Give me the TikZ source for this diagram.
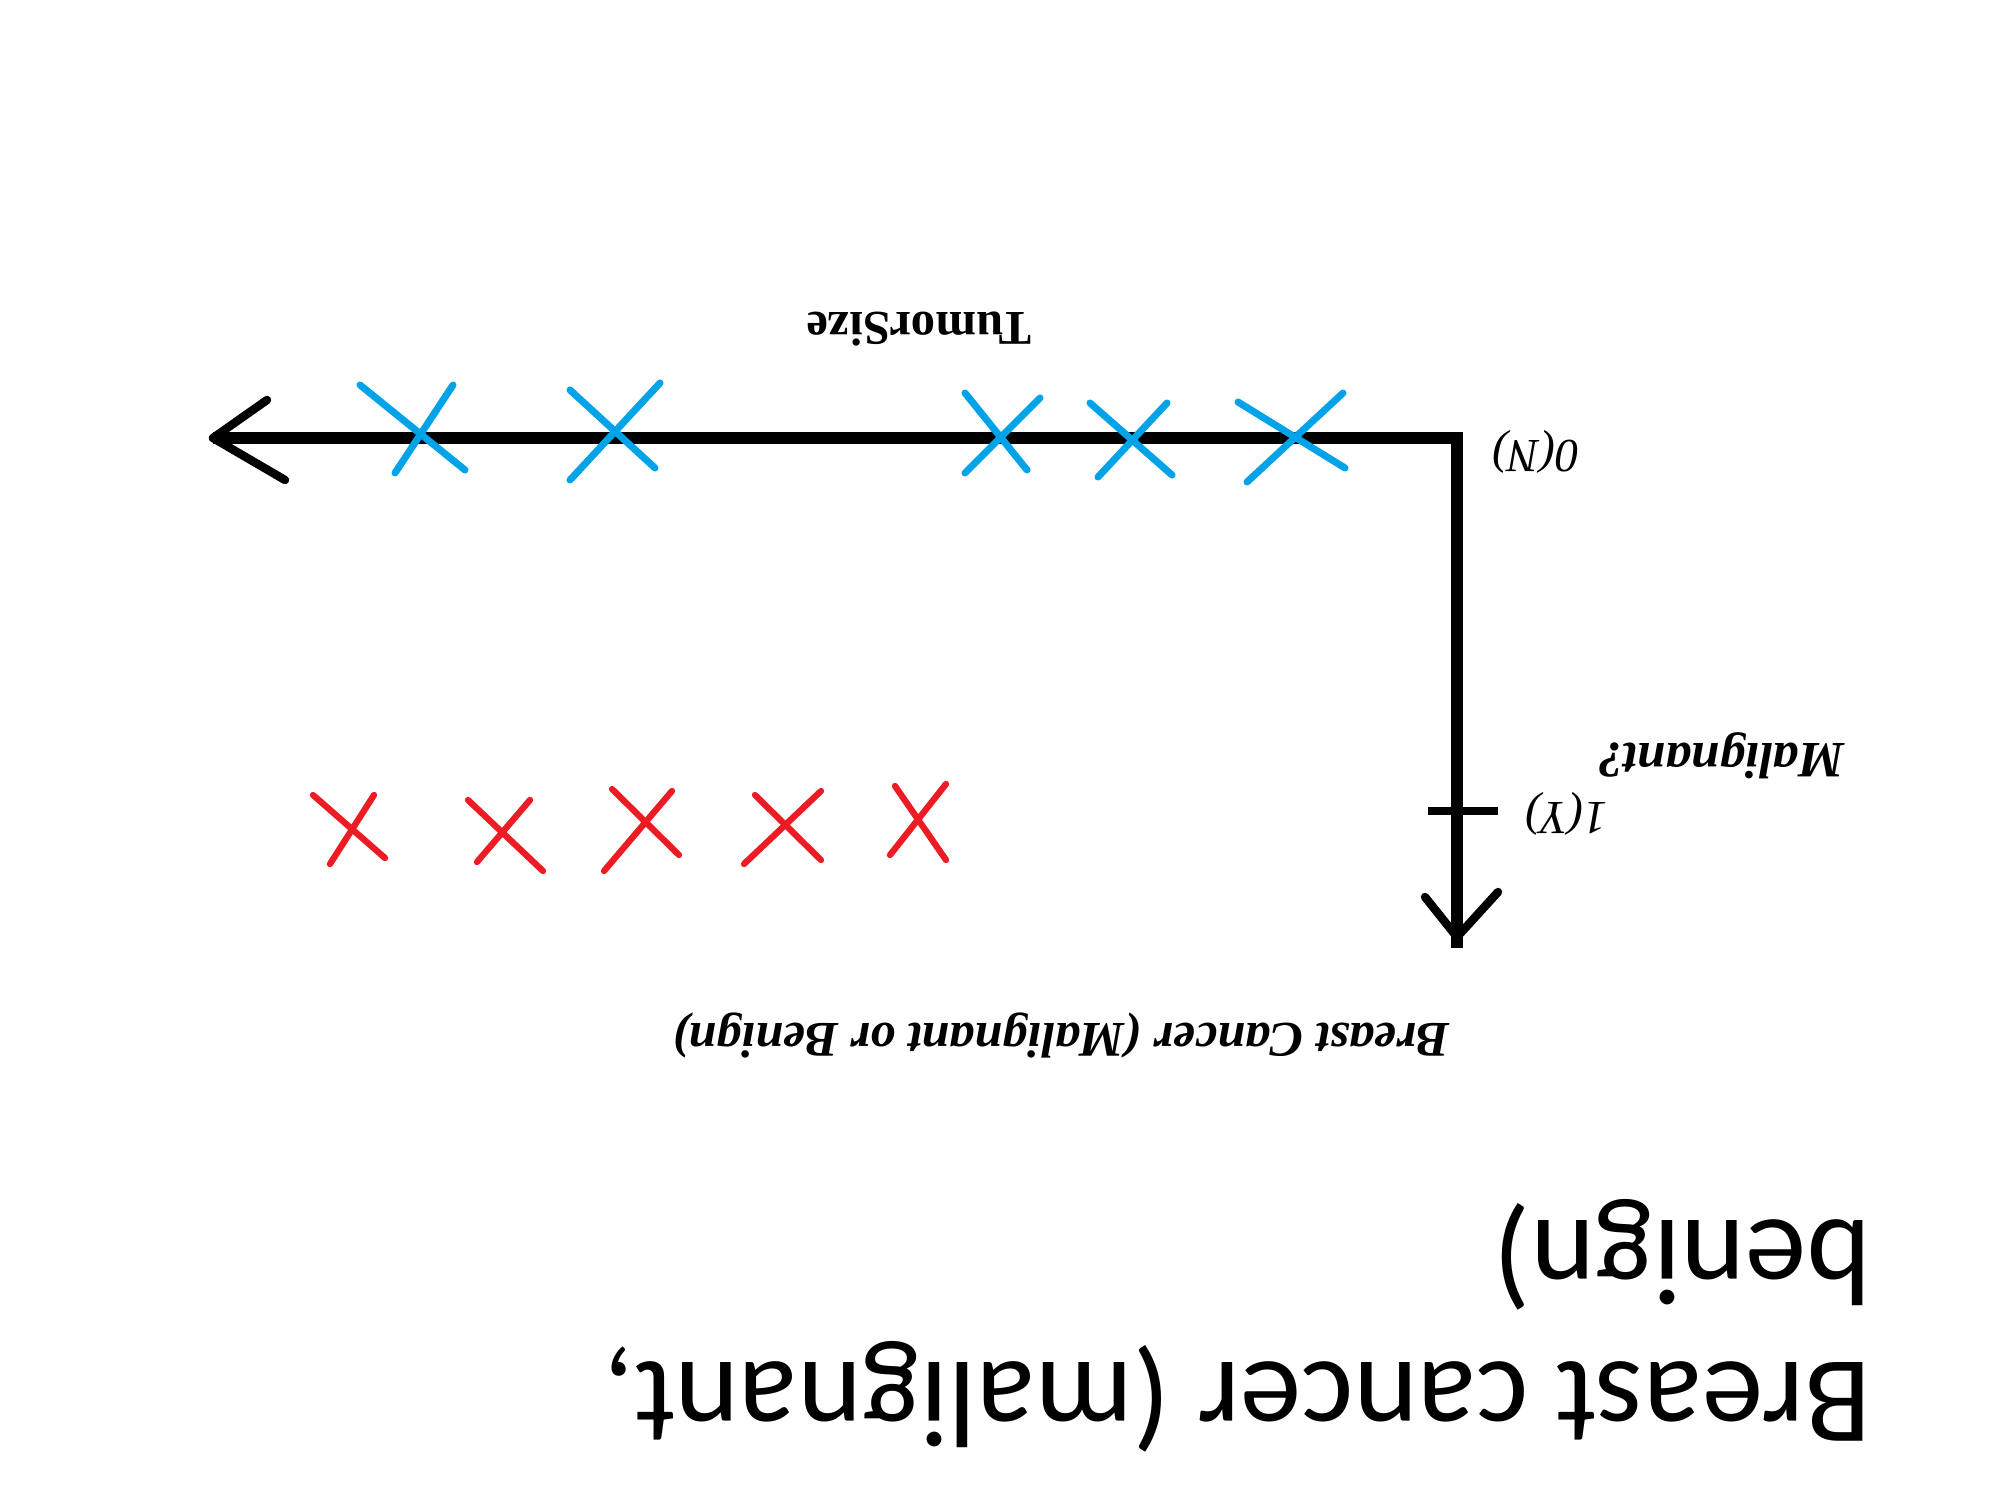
\documentclass[tikz,border=0pt]{standalone}
\usepackage{fontspec}
\newfontfamily\timesf{Liberation Serif}
\newfontfamily\calib{Carlito}
\definecolor{paintblue}{RGB}{0,162,232}
\definecolor{paintred}{RGB}{237,28,36}
\begin{document}
\begin{tikzpicture}[x=0.01cm,y=-0.01cm,
  axis/.style={line width=3.4pt,line join=miter},
  headline/.style={line width=2.4pt,line cap=round,line join=round},
  bluex/.style={paintblue,line width=2pt,line cap=round},
  redx/.style={paintred,line width=1.8pt,line cap=round},
  lbl/.style={inner sep=0pt,rotate=180,anchor=base west}]
\useasboundingbox[fill=white] (0,0) rectangle (2000,1500);
% axes
\coordinate (xend) at (213,438);
\coordinate (corner) at (1457,438);
\coordinate (yend) at (1457,948);
\draw[axis] (xend) -- (corner) -- (yend);
% arrowheads
\coordinate (ha1) at (267,400);
\coordinate (ha2) at (285,480);
\draw[headline] (ha1) -- (xend) -- (ha2);
\coordinate (ytip) at (1457,937);
\coordinate (hb1) at (1425,897);
\coordinate (hb2) at (1498,892);
\draw[headline] (hb1) -- (ytip) -- (hb2);
% tick
\coordinate (t1) at (1428,811);
\coordinate (t2) at (1498,811);
\draw[line width=2.4pt] (t1) -- (t2);
% blue crosses
\draw[bluex] (360,385)--(465,470) (453,385)--(395,473);
\draw[bluex] (570,390)--(655,468) (660,383)--(570,480);
\draw[bluex] (965,393)--(1027,470) (1040,398)--(965,473);
\draw[bluex] (1090,403)--(1172,475) (1167,403)--(1098,477);
\draw[bluex] (1238,402)--(1345,468) (1343,393)--(1247,482);
% red crosses
\draw[redx] (313,795)--(385,858) (374,795)--(330,864);
\draw[redx] (468,800)--(543,871) (530,800)--(477,862);
\draw[redx] (612,789)--(679,855) (672,791)--(604,871);
\draw[redx] (755,795)--(821,860) (821,791)--(744,864);
\draw[redx] (895,786)--(946,860) (946,784)--(890,855);
% labels
\node[lbl,font=\timesf\fontsize{13.8}{16}\selectfont\bfseries] (ts) at (1032,312) {TumorSize};
\node[lbl,font=\timesf\fontsize{13.5}{16}\selectfont\itshape] (zero) at (1580,440) {0(N)};
\node[lbl,font=\timesf\fontsize{13.5}{16}\selectfont\itshape] (one) at (1608,802) {1(Y)};
\node[lbl,font=\timesf\fontsize{14.5}{17}\selectfont\bfseries\itshape] (mal) at (1845,743) {Malignant?};
\node[lbl,font=\timesf\fontsize{14.2}{17}\selectfont\bfseries\itshape] (bc) at (1450,1023) {Breast Cancer (Malignant or Benign)};
\node[lbl,font=\calib\fontsize{34.9}{42}\selectfont] (title1) at (1872,1362) {Breast cancer (malignant,};
\node[lbl,font=\calib\fontsize{34.9}{42}\selectfont] (title2) at (1872,1220) {benign)};
\end{tikzpicture}
\end{document}
